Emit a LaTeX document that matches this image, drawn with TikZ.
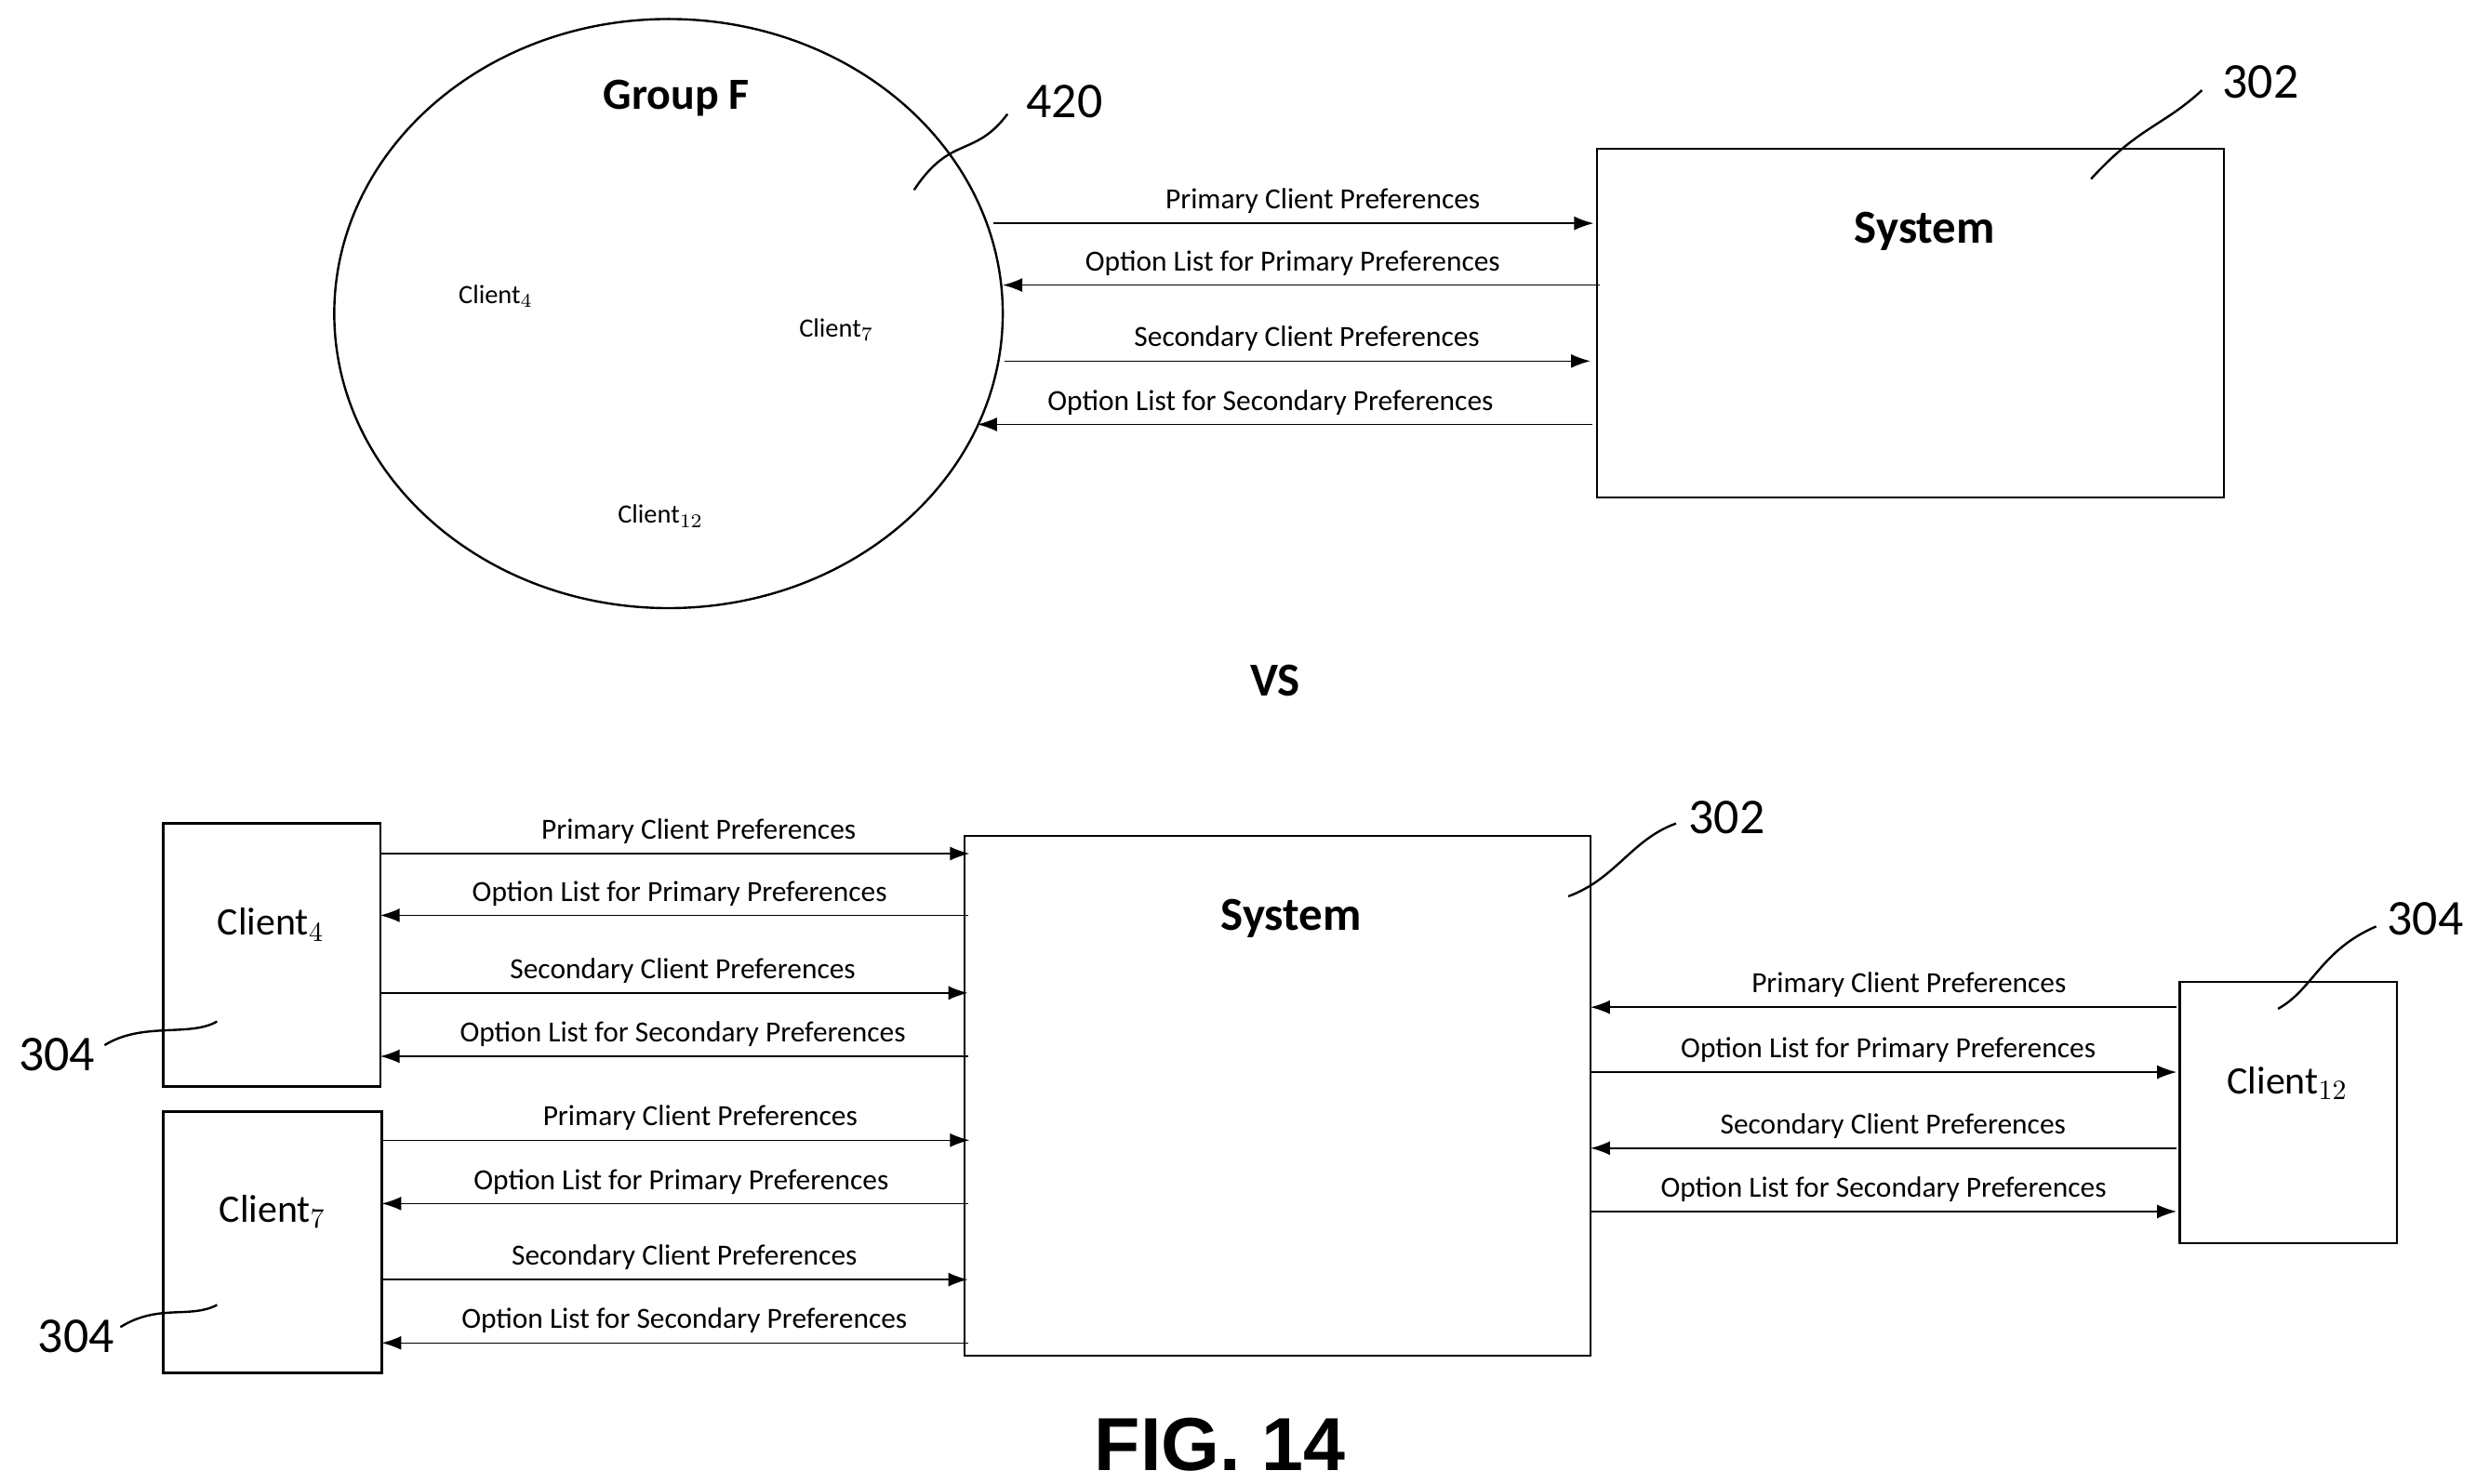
\documentclass[tikz,border=0pt]{standalone}
\usepackage{fontspec}
\setmainfont{Carlito}
\newfontfamily\figfont{Liberation Sans}
\usetikzlibrary{arrows.meta,positioning}
\tikzset{
  flow/.style={-{Latex[length=7pt,width=5pt]},line width=0.5pt},
  lab/.style={font=\fontsize{10.5}{12}\selectfont,inner sep=0pt},
  box/.style={draw,line width=0.8pt},
  ref/.style={font=\fontsize{18}{20}\selectfont,inner sep=0pt},
  lead/.style={line width=0.8pt}
}
\begin{document}
\begin{tikzpicture}[x=0.02cm,y=-0.02cm]
  \useasboundingbox (0,0) rectangle (1563,937);
  % upper half: group and system
  \draw[line width=0.8pt] (422,198) ellipse [x radius=211,y radius=186];
  \node[font=\bfseries\fontsize{16}{18}\selectfont] (grp) at (427,62) {Group F};
  \node[font=\fontsize{9.5}{11}\selectfont] (gc4) at (313,187) {Client$_4$};
  \node[font=\fontsize{9.5}{11}\selectfont] (gc7) at (528,208) {Client$_7$};
  \node[font=\fontsize{9.5}{11}\selectfont] (gc12) at (417,326) {Client$_{12}$};
  \draw[box] (1008,94) rectangle (1404,314);
  \node[font=\bfseries\fontsize{17}{20}\selectfont] (sysa) at (1215,146) {System};
  \foreach \ya/\xa/\xb/\xl/\txt [count=\i] in {
      141/627/1006/835/Primary Client Preferences,
      180/1010/633/816/Option List for Primary Preferences,
      228/634/1004/825/Secondary Client Preferences,
      268/1005/617/802/Option List for Secondary Preferences} {
    \coordinate (ua\i) at (\xa,\ya);
    \coordinate (ub\i) at (\xb,\ya);
    \draw[flow] (ua\i) -- (ub\i);
    \node[lab,anchor=base] at (\xl,\ya-9) {\txt};
  }
  \node[ref] (r420) at (672,64) {420};
  \coordinate (t420) at (577,120);
  \draw[lead] (t420) .. controls (600,85) and (615,100) .. (636,72);
  \node[ref] (r302a) at (1427,52) {302};
  \coordinate (t302a) at (1320,113);
  \draw[lead] (t302a) .. controls (1350,80) and (1365,80) .. (1390,57);
  \node[font=\bfseries\fontsize{17}{20}\selectfont] (vs) at (805,430) {VS};
  % lower half: single clients
  \draw[box] (103,520) rectangle (240,686);
  \draw[box] (103,702) rectangle (241,867);
  \draw[box] (609,528) rectangle (1004,856);
  \draw[box] (1376,620) rectangle (1513,785);
  \node[font=\fontsize{14}{16}\selectfont] (c4) at (171,584) {Client$_4$};
  \node[font=\fontsize{14}{16}\selectfont] (c7) at (172,765) {Client$_7$};
  \node[font=\fontsize{14}{16}\selectfont] (c12) at (1444,684) {Client$_{12}$};
  \node[font=\bfseries\fontsize{17}{20}\selectfont] (sysb) at (815,580) {System};
  \foreach \ya/\xa/\xb/\xl/\txt [count=\i] in {
      539/240/612/441/Primary Client Preferences,
      578/611/240/429/Option List for Primary Preferences,
      627/240/611/431/Secondary Client Preferences,
      667/611/240/431/Option List for Secondary Preferences,
      720/241/612/442/Primary Client Preferences,
      760/611/241/430/Option List for Primary Preferences,
      808/241/611/432/Secondary Client Preferences,
      848/611/241/432/Option List for Secondary Preferences,
      636/1374/1004/1205/Primary Client Preferences,
      677/1004/1374/1192/Option List for Primary Preferences,
      725/1374/1004/1195/Secondary Client Preferences,
      765/1004/1374/1189/Option List for Secondary Preferences} {
    \coordinate (la\i) at (\xa,\ya);
    \coordinate (lb\i) at (\xb,\ya);
    \draw[flow] (la\i) -- (lb\i);
    \node[lab,anchor=base] at (\xl,\ya-9) {\txt};
  }
  \node[ref] (r302b) at (1090,516) {302};
  \coordinate (t302b) at (990,566);
  \draw[lead] (t302b) .. controls (1020,555) and (1030,530) .. (1058,520);
  \node[ref] (r304a) at (1531,580) {304};
  \coordinate (t304a) at (1438,637);
  \draw[lead] (t304a) .. controls (1460,625) and (1465,600) .. (1500,585);
  \node[ref] (r304b) at (36,666) {304};
  \coordinate (t304b) at (137,645);
  \draw[lead] (66,660) .. controls (90,645) and (120,655) .. (t304b);
  \node[ref] (r304c) at (48,844) {304};
  \coordinate (t304c) at (137,824);
  \draw[lead] (76,838) .. controls (100,823) and (120,833) .. (t304c);
  \node[font=\figfont\bfseries\fontsize{27}{30}\selectfont] (fig) at (770,912) {FIG. 14};
\end{tikzpicture}
\end{document}
